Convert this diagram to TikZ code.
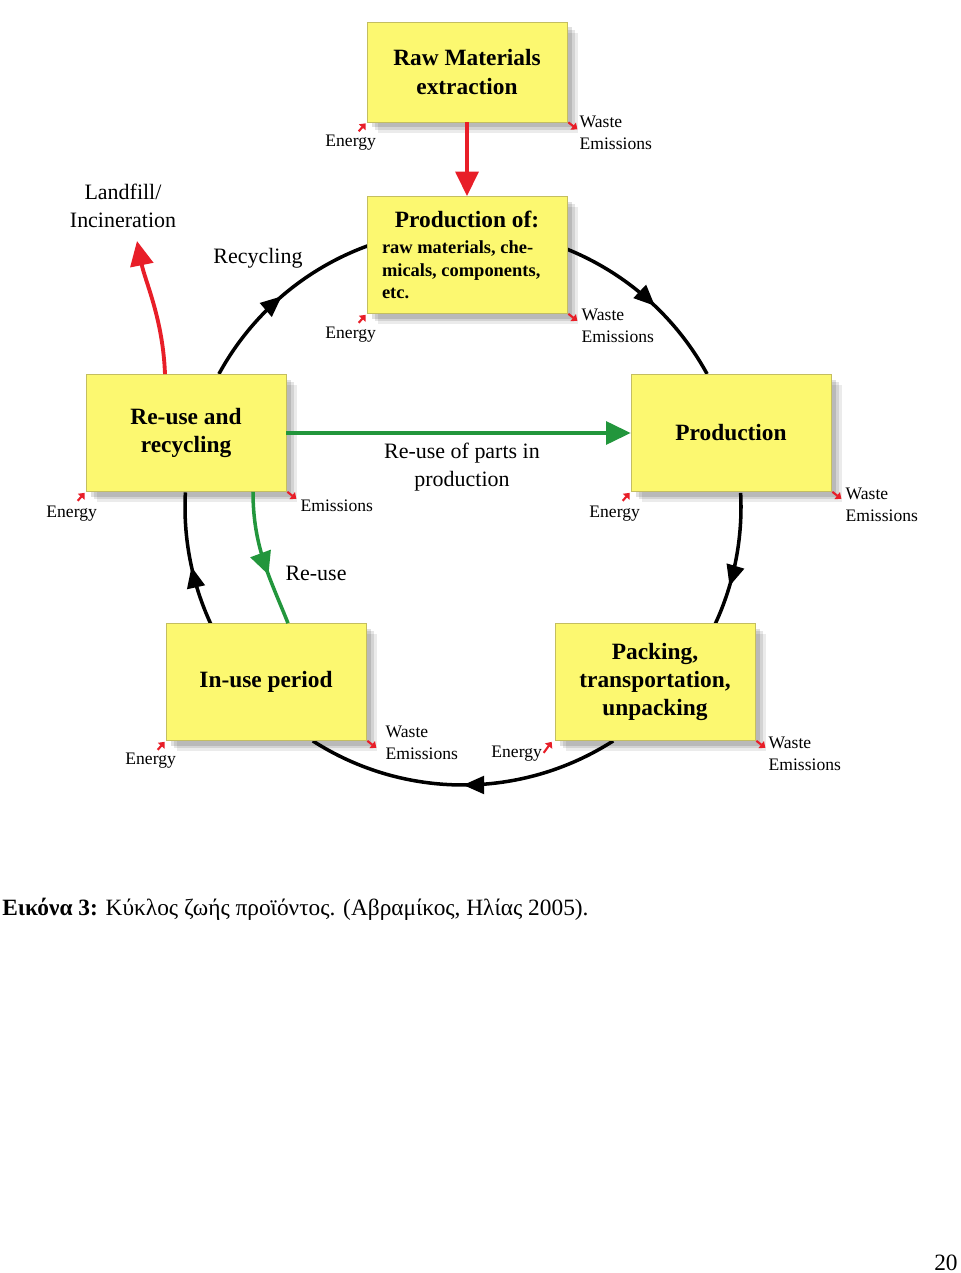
\documentclass[tikz,border=0pt]{standalone}
\usepackage{fontspec}
\setmainfont{Liberation Serif}
\usetikzlibrary{arrows.meta,calc,decorations.markings,shadows}

\definecolor{boxyellow}{RGB}{252,248,112}
\definecolor{boxedge}{RGB}{196,190,96}
\definecolor{flowred}{RGB}{232,30,40}
\definecolor{flowgreen}{RGB}{34,150,60}

\tikzset{
  stage/.style={draw=boxedge, fill=boxyellow, minimum width=4cm, minimum height=2.34cm,
    align=center, inner sep=2pt, font=\bfseries\fontsize{13.3}{16}\selectfont,
    drop shadow={shadow xshift=6pt, shadow yshift=-6pt, opacity=0.08, fill=black},
    drop shadow={shadow xshift=4.5pt, shadow yshift=-4.5pt, opacity=0.1, fill=black},
    drop shadow={shadow xshift=3pt, shadow yshift=-3pt, opacity=0.12, fill=black}},
  flowlabel/.style={align=center, font=\fontsize{12.5}{16}\selectfont},
  smalllabel/.style={align=left, inner sep=0pt, font=\fontsize{10}{12.5}\selectfont},
  cycarc/.style={line width=2pt, decoration={markings,
      mark=at position #1 with {\arrow{Triangle[length=12pt,width=10pt]}}},
    postaction={decorate}},
  tick/.style={flowred, line width=1.2pt, -{Triangle[length=3pt,width=5pt]}}
}

\begin{document}
\begin{tikzpicture}[x=0.02cm,y=-0.02cm]
  \path[use as bounding box, fill=white] (0,0) rectangle (960,1273);
  % life cycle ring
  \coordinate (cyc) at (463,507);
  \foreach \ta/\tb/\pos in {292/331.4/0.55, 357.1/384.9/0.7, 57.3/122.7/0.5, 155/183/0.45, 208.6/250/0.5}
    \draw[cycarc=\pos] ($(cyc)+(\ta:278)$) arc[start angle=\ta, end angle=\tb, radius=278];

  % stages
  \node[stage, minimum height=2cm] (raw) at (467,72) {Raw Materials\\extraction};
  \node[stage] (prodof) at (467,255) {\parbox{3.4cm}{\centering Production of:\par\vspace{2pt}
      \raggedright\fontsize{10.5}{12.7}\selectfont raw materials, che-\\micals, components,\\etc.}};
  \node[stage] (prod) at (731,433) {Production};
  \node[stage] (reuse) at (186,433) {Re-use and\\recycling};
  \node[stage] (inuse) at (266,682) {In-use period};
  \node[stage] (pack) at (655,682) {Packing,\\transportation,\\unpacking};

  % flows
  \draw[flowred, line width=2.2pt, -{Triangle[length=14pt,width=13pt]}] (raw.south) -- (prodof.north);
  \node[flowlabel] (landfill) at (123,206) {Landfill/\\Incineration};
  \coordinate (lf) at (137,241);
  \draw[flowred, line width=2.2pt, -{Triangle[length=14pt,width=13pt]}]
    ($(reuse.north)+(-21,0)$) .. controls +(-2,-55) and +(8,40) .. (lf);
  \node[flowlabel] (recyc) at (258,258) {Recycling};
  \draw[flowgreen, line width=2pt, -{Triangle[length=14pt,width=13pt]}] (reuse.east) -- (reuse.east -| prod.west);
  \node[flowlabel] (parts) at (462,467) {Re-use of parts in\\production};
  \draw[flowgreen, line width=2pt, decoration={markings,
      mark=at position 0.62 with {\arrow{Triangle[length=13pt,width=12pt]}}}, postaction={decorate}]
    ($(reuse.south)+(67,0)$) .. controls +(0,55) and +(-18,-45) .. ($(inuse.north)+(22,0)$);
  \node[flowlabel] (reuselbl) at (316,573) {Re-use};

  % energy in
  \foreach \b/\dx/\dy in {raw/-16/20, prodof/-16/21, prod/-16/22, reuse/-14/22, inuse/-15/20} {
    \draw[tick] ($(\b.south west)+(-8,9)$) -- ($(\b.south west)+(-1,1)$);
    \node[smalllabel] at ($(\b.south west)+(\dx,\dy)$) {Energy};
  }
  \draw[tick] ($(pack.south west)+(-11,12)$) -- ($(pack.south west)+(-3,1)$);
  \node[smalllabel] (packen) at ($(pack.south west)+(-38,13)$) {Energy};

  % waste out
  \foreach \b/\dx/\dy in {raw/12/-7, prodof/14/-5, prod/14/-4, inuse/19/-15, pack/13/-4} {
    \draw[tick] ($(\b.south east)+(1,0)$) -- ($(\b.south east)+(10,7)$);
    \node[smalllabel, anchor=north west] at ($(\b.south east)+(\dx,\dy)$) {Waste\\Emissions};
  }
  \draw[tick] ($(reuse.south east)+(1,0)$) -- ($(reuse.south east)+(10,7)$);
  \node[smalllabel, anchor=west] (reuseem) at ($(reuse.south east)+(14,14)$) {Emissions};

  % caption and page
  \node[anchor=base west, inner sep=0pt, font=\fontsize{13.3}{15}\selectfont] (caption) at (2,915)
    {\textbf{Εικόνα 3:} Κύκλος ζωής προϊόντος. (Αβραμίκος, Ηλίας 2005).};
  \node[anchor=base east, inner sep=0pt, font=\fontsize{13.3}{15}\selectfont] (page) at (958,1270) {20};
\end{tikzpicture}
\end{document}
